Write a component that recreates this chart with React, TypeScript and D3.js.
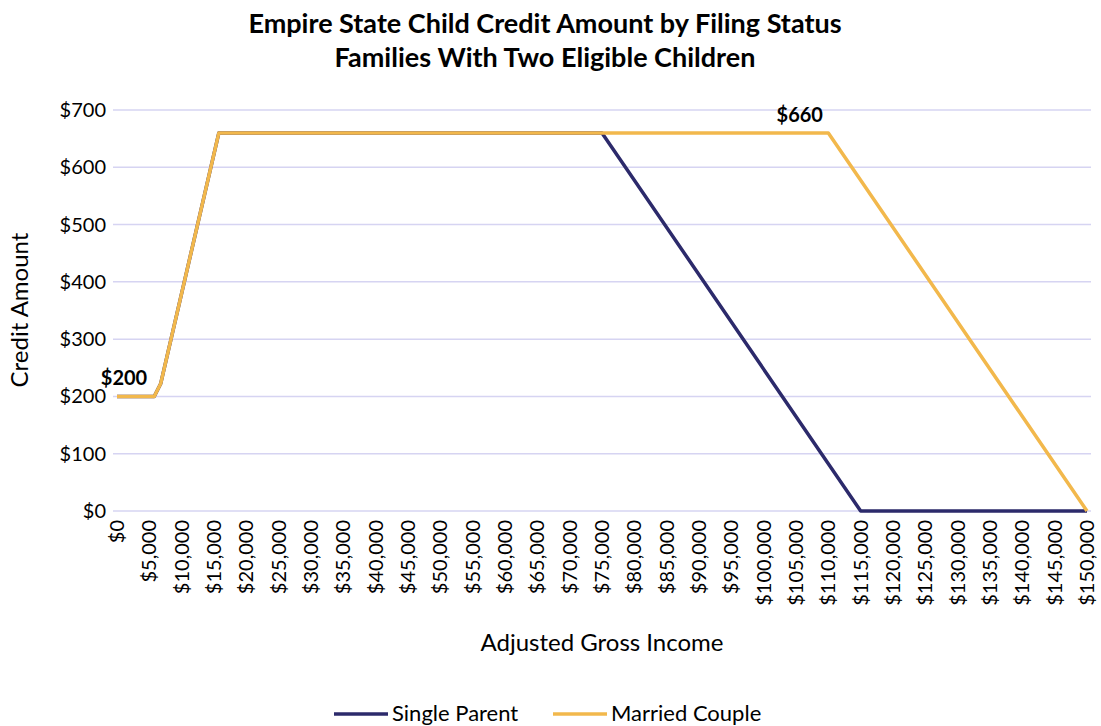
import React from "react";
import * as d3 from "d3";

const singleIncome = [0, 5750, 6750, 15750, 75000, 115000, 150000];
const singleCredit = [200, 200, 222, 660, 660, 0, 0];
const marriedIncome = [0, 5750, 6750, 15750, 110000, 150000];
const marriedCredit = [200, 200, 222, 660, 660, 0];
const yTicks = [0, 100, 200, 300, 400, 500, 600, 700];
const xTicks = d3.range(0, 150001, 5000);
const labels = [
  { income: 0, credit: 200, text: "$200" },
  { income: 104500, credit: 660, text: "$660" },
];

const W = 1101;
const H = 726;
const FONT = "Lato, 'Open Sans', sans-serif";

export default function App() {
  const x = d3.scaleLinear().domain([0, 150000]).range([117, 1087]);
  const y = d3.scaleLinear().domain([0, 700]).range([511, 110]);
  const line = d3
    .line<[number, number]>()
    .x((d) => x(d[0]))
    .y((d) => y(d[1]));
  const single = singleIncome.map((v, i) => [v, singleCredit[i]] as [number, number]);
  const married = marriedIncome.map((v, i) => [v, marriedCredit[i]] as [number, number]);
  const fmt = (v: number) => "$" + d3.format(",")(v);
  const navy = "#2c2a6b";
  const gold = "#f2b84c";
  return (
    <svg width={W} height={H} style={{ position: "absolute", left: 0, top: 0, background: "#fff" }} fontFamily={FONT}>
      <text x={545} y={33} textAnchor="middle" fontSize={27} fontWeight={700} fill="#000">
        Empire State Child Credit Amount by Filing Status
      </text>
      <text x={545} y={67} textAnchor="middle" fontSize={27} fontWeight={700} fill="#000">
        Families With Two Eligible Children
      </text>
      {yTicks.map((t) => (
        <g key={t}>
          <line x1={113} x2={1091} y1={y(t)} y2={y(t)} stroke="#d6d4f2" strokeWidth={1.5} />
          <text x={106} y={y(t) + 7} textAnchor="end" fontSize={20} fill="#000">
            {"$" + t}
          </text>
        </g>
      ))}
      {xTicks.map((t) => (
        <text
          key={t}
          transform={`translate(${x(t) + 7},${520}) rotate(-90)`}
          textAnchor="end"
          fontSize={20}
          fill="#000"
        >
          {fmt(t)}
        </text>
      ))}
      <path d={line(single) || ""} fill="none" stroke={navy} strokeWidth={3.5} strokeLinejoin="round" />
      <path d={line(married) || ""} fill="none" stroke={gold} strokeWidth={3.5} strokeLinejoin="round" />
      {labels.map((l) => (
        <text key={l.text} x={x(l.income) + 7} y={y(l.credit) - 11} textAnchor="middle" fontSize={20} fontWeight={700} fill="#000">
          {l.text}
        </text>
      ))}
      <text transform={`translate(28,310) rotate(-90)`} textAnchor="middle" fontSize={24} fill="#000">
        Credit Amount
      </text>
      <text x={602} y={651} textAnchor="middle" fontSize={24} fill="#000">
        Adjusted Gross Income
      </text>
      <line x1={334} x2={388} y1={714} y2={714} stroke={navy} strokeWidth={3.5} />
      <text x={392} y={721} fontSize={22} fill="#000">Single Parent</text>
      <line x1={553} x2={607} y1={714} y2={714} stroke={gold} strokeWidth={3.5} />
      <text x={611} y={721} fontSize={22} fill="#000">Married Couple</text>
    </svg>
  );
}
